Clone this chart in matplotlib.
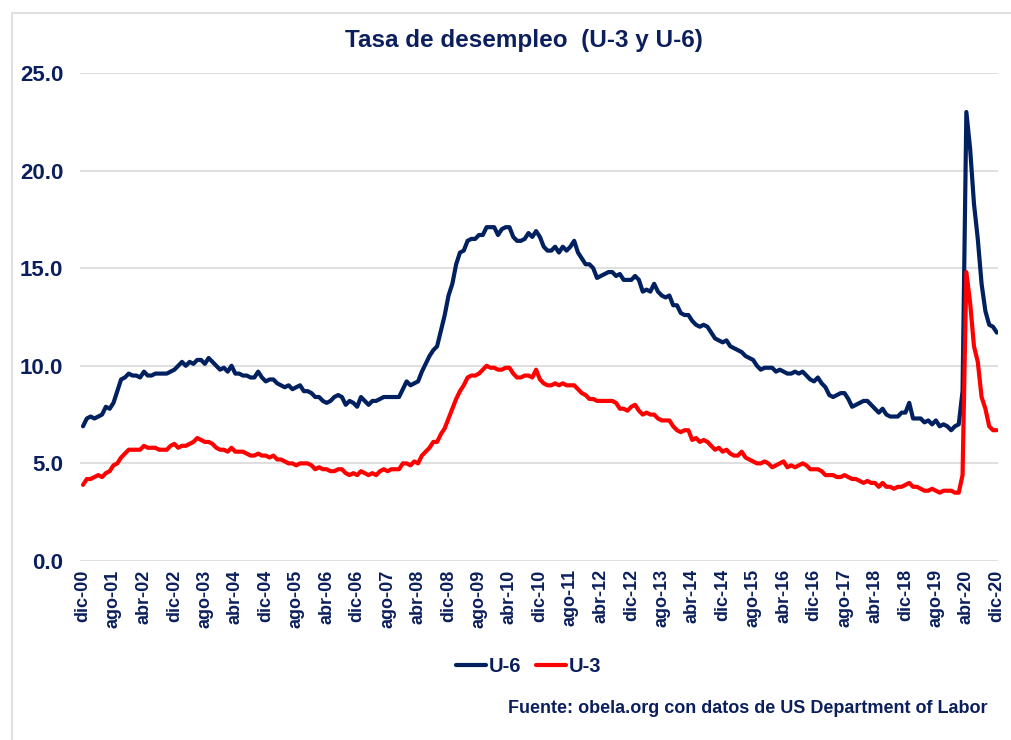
import matplotlib
matplotlib.use("Agg")
import matplotlib.pyplot as plt
from matplotlib.patches import Rectangle

plt.rcParams['font.family'] = ['Liberation Sans', 'DejaVu Sans']

# monthly series, dic-2000 .. dic-2020
u3 = [3.9,
      4.2, 4.2, 4.3, 4.4, 4.3, 4.5, 4.6, 4.9, 5.0, 5.3, 5.5, 5.7,
      5.7, 5.7, 5.7, 5.9, 5.8, 5.8, 5.8, 5.7, 5.7, 5.7, 5.9, 6.0,
      5.8, 5.9, 5.9, 6.0, 6.1, 6.3, 6.2, 6.1, 6.1, 6.0, 5.8, 5.7,
      5.7, 5.6, 5.8, 5.6, 5.6, 5.6, 5.5, 5.4, 5.4, 5.5, 5.4, 5.4,
      5.3, 5.4, 5.2, 5.2, 5.1, 5.0, 5.0, 4.9, 5.0, 5.0, 5.0, 4.9,
      4.7, 4.8, 4.7, 4.7, 4.6, 4.6, 4.7, 4.7, 4.5, 4.4, 4.5, 4.4,
      4.6, 4.5, 4.4, 4.5, 4.4, 4.6, 4.7, 4.6, 4.7, 4.7, 4.7, 5.0,
      5.0, 4.9, 5.1, 5.0, 5.4, 5.6, 5.8, 6.1, 6.1, 6.5, 6.8, 7.3,
      7.8, 8.3, 8.7, 9.0, 9.4, 9.5, 9.5, 9.6, 9.8, 10.0, 9.9, 9.9,
      9.8, 9.8, 9.9, 9.9, 9.6, 9.4, 9.4, 9.5, 9.5, 9.4, 9.8, 9.3,
      9.1, 9.0, 9.0, 9.1, 9.0, 9.1, 9.0, 9.0, 9.0, 8.8, 8.6, 8.5,
      8.3, 8.3, 8.2, 8.2, 8.2, 8.2, 8.2, 8.1, 7.8, 7.8, 7.7, 7.9,
      8.0, 7.7, 7.5, 7.6, 7.5, 7.5, 7.3, 7.2, 7.2, 7.2, 6.9, 6.7,
      6.6, 6.7, 6.7, 6.2, 6.3, 6.1, 6.2, 6.1, 5.9, 5.7, 5.8, 5.6,
      5.7, 5.5, 5.4, 5.4, 5.6, 5.3, 5.2, 5.1, 5.0, 5.0, 5.1, 5.0,
      4.8, 4.9, 5.0, 5.1, 4.8, 4.9, 4.8, 4.9, 5.0, 4.9, 4.7, 4.7,
      4.7, 4.6, 4.4, 4.4, 4.4, 4.3, 4.3, 4.4, 4.3, 4.2, 4.2, 4.1,
      4.0, 4.1, 4.0, 4.0, 3.8, 4.0, 3.8, 3.8, 3.7, 3.8, 3.8, 3.9,
      4.0, 3.8, 3.8, 3.7, 3.6, 3.6, 3.7, 3.6, 3.5, 3.6, 3.6, 3.6,
      3.5, 3.5, 4.4, 14.8, 13.2, 11.0, 10.2, 8.4, 7.8, 6.9, 6.7, 6.7]

u6 = [6.9,
      7.3, 7.4, 7.3, 7.4, 7.5, 7.9, 7.8, 8.1, 8.7, 9.3, 9.4, 9.6,
      9.5, 9.5, 9.4, 9.7, 9.5, 9.5, 9.6, 9.6, 9.6, 9.6, 9.7, 9.8,
      10.0, 10.2, 10.0, 10.2, 10.1, 10.3, 10.3, 10.1, 10.4, 10.2, 10.0, 9.8,
      9.9, 9.7, 10.0, 9.6, 9.6, 9.5, 9.5, 9.4, 9.4, 9.7, 9.4, 9.2,
      9.3, 9.3, 9.1, 9.0, 8.9, 9.0, 8.8, 8.9, 9.0, 8.7, 8.7, 8.6,
      8.4, 8.4, 8.2, 8.1, 8.2, 8.4, 8.5, 8.4, 8.0, 8.2, 8.1, 7.9,
      8.4, 8.2, 8.0, 8.2, 8.2, 8.3, 8.4, 8.4, 8.4, 8.4, 8.4, 8.8,
      9.2, 9.0, 9.1, 9.2, 9.7, 10.1, 10.5, 10.8, 11.0, 11.8, 12.6, 13.6,
      14.2, 15.2, 15.8, 15.9, 16.4, 16.5, 16.5, 16.7, 16.7, 17.1, 17.1, 17.1,
      16.7, 17.0, 17.1, 17.1, 16.6, 16.4, 16.4, 16.5, 16.8, 16.6, 16.9, 16.6,
      16.1, 15.9, 15.9, 16.1, 15.8, 16.1, 15.9, 16.1, 16.4, 15.8, 15.5, 15.2,
      15.2, 15.0, 14.5, 14.6, 14.7, 14.8, 14.8, 14.6, 14.7, 14.4, 14.4, 14.4,
      14.6, 14.4, 13.8, 13.9, 13.8, 14.2, 13.8, 13.6, 13.5, 13.6, 13.1, 13.1,
      12.7, 12.6, 12.6, 12.3, 12.1, 12.0, 12.1, 12.0, 11.7, 11.4, 11.3, 11.2,
      11.3, 11.0, 10.9, 10.8, 10.7, 10.5, 10.4, 10.3, 10.0, 9.8, 9.9, 9.9,
      9.9, 9.7, 9.8, 9.7, 9.6, 9.6, 9.7, 9.6, 9.7, 9.5, 9.3, 9.2,
      9.4, 9.1, 8.9, 8.5, 8.4, 8.5, 8.6, 8.6, 8.3, 7.9, 8.0, 8.1,
      8.2, 8.2, 8.0, 7.8, 7.6, 7.8, 7.5, 7.4, 7.4, 7.4, 7.6, 7.6,
      8.1, 7.3, 7.3, 7.3, 7.1, 7.2, 7.0, 7.2, 6.9, 7.0, 6.9, 6.7,
      6.9, 7.0, 8.7, 23.0, 21.1, 18.3, 16.5, 14.2, 12.8, 12.1, 12.0, 11.7]

meses = ['ene', 'feb', 'mar', 'abr', 'may', 'jun',
         'jul', 'ago', 'sep', 'oct', 'nov', 'dic']
first_year, first_month = 2000, 12

labels = []
for i in range(len(u3)):
    m = (first_month - 1 + i) % 12
    y = first_year + (first_month - 1 + i) // 12
    labels.append(f"{meses[m]}-{y % 100:02d}")

navy = '#0B1F5C'
x = list(range(len(u3)))

fig = plt.figure(figsize=(10.11, 7.40), dpi=100)
ax = fig.add_axes([0.0791, 0.2419, 0.908, 0.6595])

ax.plot(x, u6, color='#002060', lw=3, label='U-6', solid_capstyle='round')
ax.plot(x, u3, color='#FF0000', lw=3, label='U-3', solid_capstyle='round')

ax.set_ylim(0, 25)
ax.set_xlim(-0.8, 240.3)
ax.set_yticks([0, 5, 10, 15, 20, 25])
ax.set_yticklabels([f"{v:.1f}" for v in [0, 5, 10, 15, 20, 25]])
ax.set_xticks(x[::8])
ax.set_xticklabels(labels[::8], rotation=90)
ax.grid(axis='y', color='#D9D9D9', lw=1.2)
ax.set_axisbelow(True)
for s in ax.spines.values():
    s.set_visible(False)
ax.tick_params(length=0)
ax.tick_params(axis='y', pad=12, labelsize=16, labelcolor=navy)
ax.tick_params(axis='x', pad=6, labelsize=13, labelcolor=navy)
for t in ax.get_xticklabels() + ax.get_yticklabels():
    t.set_fontweight('bold')

fig.text(0.518, 0.945, 'Tasa de desempleo  (U-3 y U-6)', ha='center', va='center',
         fontsize=17.5, fontweight='bold', color=navy)

leg = fig.legend(loc='center', bbox_to_anchor=(0.523, 0.099), ncol=2, frameon=False,
                 prop={'weight': 'bold', 'size': 14.5}, handlelength=1.5,
                 handletextpad=0.15, columnspacing=0.7)
for t in leg.get_texts():
    t.set_color(navy)

fig.text(0.977, 0.043, 'Fuente: obela.org con datos de US Department of Labor',
         ha='right', va='center', fontsize=13, fontweight='bold', color=navy)

fig.patches.append(Rectangle((0.012, -0.01), 1.1, 0.993, transform=fig.transFigure,
                             fill=False, edgecolor='#D9D9D9', lw=1.2))

fig.savefig('out.png', dpi=100)
